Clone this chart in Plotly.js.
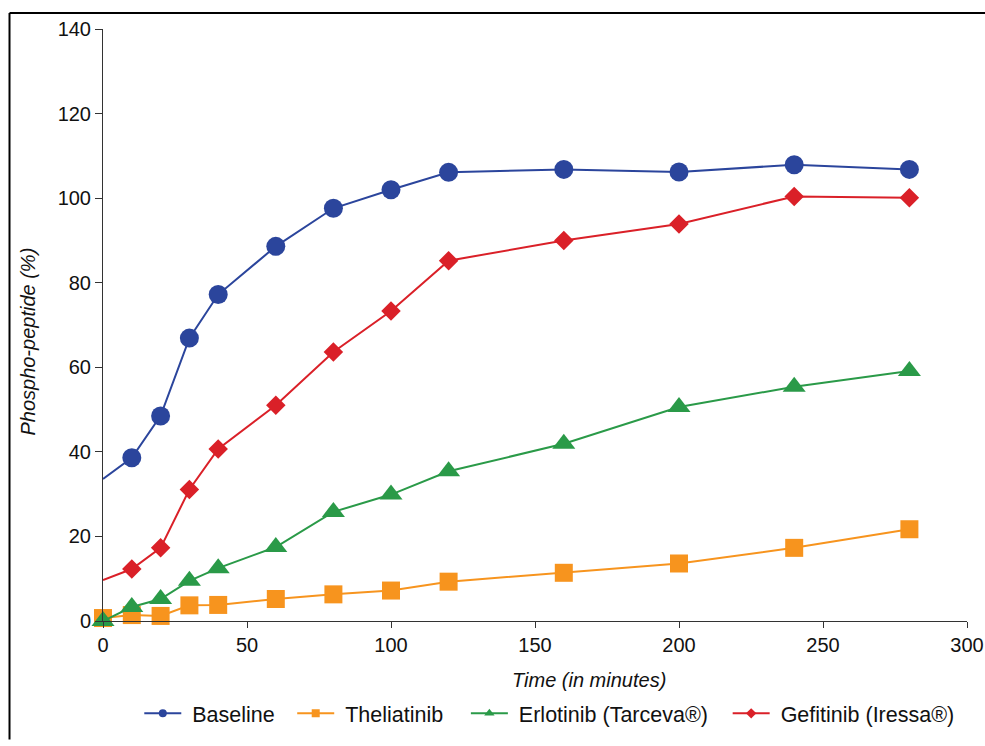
<!DOCTYPE html>
<html>
<head>
<meta charset="utf-8">
<script src="https://cdn.plot.ly/plotly-3.0.1.min.js"></script>
<style>
  html, body { margin: 0; padding: 0; background: #fff; }
  #chart { width: 985px; height: 746px; }
</style>
</head>
<body>
<div id="chart"></div>
<script>
// ---- Data ----
const times = [0, 10, 20, 30, 40, 60, 80, 100, 120, 160, 200, 240, 280];
const seriesNames = ['Baseline', 'Theliatinib', 'Erlotinib (Tarceva®)', 'Gefitinib (Iressa®)'];
const baseline    = [33.6, 38.6, 48.5, 66.9, 77.2, 88.6, 97.6, 102.0, 106.1, 106.8, 106.2, 107.9, 106.8];
const theliatinib = [0.7, 1.4, 1.2, 3.7, 3.8, 5.2, 6.3, 7.2, 9.3, 11.4, 13.6, 17.3, 21.7];
const erlotinib   = [0.0, 3.3, 5.2, 9.5, 12.5, 17.5, 25.8, 29.9, 35.4, 41.9, 50.6, 55.4, 59.1];
const gefitinib   = [9.7, 12.3, 17.3, 31.1, 40.7, 51.0, 63.6, 73.3, 85.2, 90.0, 93.9, 100.4, 100.1];
const xTicks = [0, 50, 100, 150, 200, 250, 300];
const yTicks = [0, 20, 40, 60, 80, 100, 120, 140];
const xTitle = 'Time (in minutes)';
const yTitle = 'Phospho-peptide (%)';

// ---- Styles ----
const FONT = 'Liberation Sans, Arial, Helvetica, sans-serif';
const styles = [
  { color: '#2B459C', symbol: 'circle',       size: 19, legSize: 8, firstMarker: false },
  { color: '#F7941E', symbol: 'square',       size: 18, legSize: 8, firstMarker: true },
  { color: '#2A9A48', symbol: 'triangle-up',  size: 20, legSize: 9, firstMarker: true },
  { color: '#DA2028', symbol: 'diamond',      size: 15, legSize: 8, firstMarker: false }
];
const values = [baseline, theliatinib, erlotinib, gefitinib];
const legendX = [0.042, 0.219, 0.420, 0.723];  // paper coords of legend entries
const legendIds = ['legend', 'legend2', 'legend3', 'legend4'];
const NBSP = '\u00A0';

const traces = [];
values.forEach((vals, k) => {
  const st = styles[k];
  traces.push({
    type: 'scatter', mode: 'lines+markers',
    x: times, y: vals, name: seriesNames[k],
    showlegend: false, cliponaxis: false,
    line: { color: st.color, width: 2 },
    marker: {
      color: st.color, symbol: st.symbol, opacity: 1,
      line: { width: 0 },
      size: times.map((t, i) => (i === 0 && !st.firstMarker) ? 0 : st.size)
    }
  });
});
// legend-only entries with small symbols
values.forEach((vals, k) => {
  const st = styles[k];
  traces.push({
    type: 'scatter', mode: 'lines+markers',
    x: [null], y: [null], name: NBSP + seriesNames[k],
    legend: legendIds[k], showlegend: true,
    line: { color: st.color, width: 2 },
    marker: { color: st.color, symbol: st.symbol, size: st.legSize, opacity: 1, line: { width: 0 } }
  });
});

const legendBase = {
  orientation: 'h', xanchor: 'left', yanchor: 'middle', y: -0.156,
  font: { family: FONT, size: 21.5, color: '#111' },
  bgcolor: 'rgba(0,0,0,0)', borderwidth: 0, itemwidth: 37
};

const layout = {
  width: 985, height: 746,
  margin: { l: 103, r: 18, t: 29, b: 107, pad: 0 },
  paper_bgcolor: '#fff', plot_bgcolor: '#fff',
  font: { family: FONT, size: 20, color: '#111' },
  xaxis: {
    range: [0, 300], tickvals: xTicks, ticktext: xTicks.map(String),
    showline: true, linecolor: '#333', linewidth: 1,
    ticks: 'outside', ticklen: 6, tickcolor: '#333',
    showgrid: false, zeroline: false,
    tickfont: { family: FONT, size: 20, color: '#111' }
  },
  yaxis: {
    range: [0, 140], tickvals: yTicks, ticktext: yTicks.map(String),
    showline: true, linecolor: '#333', linewidth: 1,
    ticks: 'outside', ticklen: 7, tickcolor: '#333',
    showgrid: false, zeroline: false,
    tickfont: { family: FONT, size: 20, color: '#111' }
  },
  annotations: [
    { text: xTitle, xref: 'paper', yref: 'paper', x: 0.563, y: -0.0995,
      xanchor: 'center', yanchor: 'middle', showarrow: false,
      font: { family: FONT, size: 20, color: '#111', style: 'italic' } },
    { text: yTitle, xref: 'paper', yref: 'paper', x: -0.0868, y: 0.472,
      xanchor: 'center', yanchor: 'middle', showarrow: false, textangle: -90,
      font: { family: FONT, size: 20, color: '#111', style: 'italic' } }
  ],
  shapes: [
    { type: 'line', xref: 'paper', yref: 'paper', x0: -0.1082, x1: 1.03, y0: 1.027, y1: 1.027,
      line: { color: '#000', width: 2 } },
    { type: 'line', xref: 'paper', yref: 'paper', x0: -0.1082, x1: -0.1082, y0: 1.027, y1: -0.2,
      line: { color: '#000', width: 2 } }
  ]
};
legendIds.forEach((id, k) => {
  layout[id] = Object.assign({}, legendBase, { x: legendX[k] });
});

Plotly.newPlot('chart', traces, layout, { displayModeBar: false, staticPlot: true });
</script>
</body>
</html>
